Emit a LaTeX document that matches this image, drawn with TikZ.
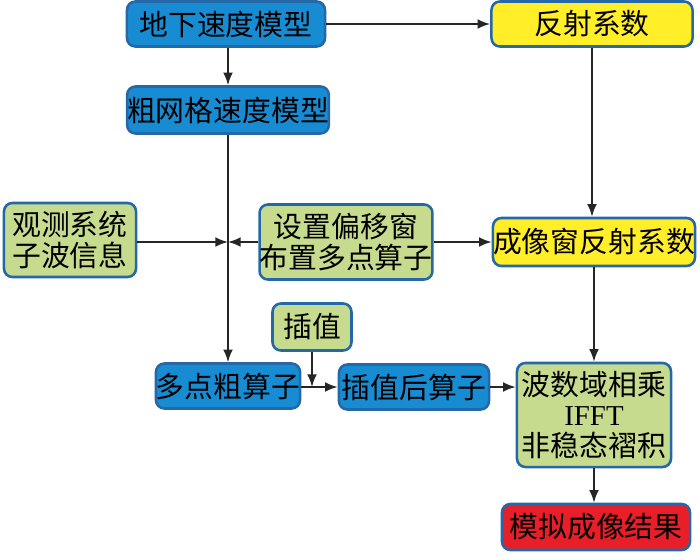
\documentclass[tikz,border=0pt]{standalone}
\usepackage{fontspec}
\setmainfont{Noto Sans CJK SC}
\newfontfamily\latinfont{Liberation Serif}
\usetikzlibrary{arrows.meta}

\definecolor{boxblue}{RGB}{24,140,210}
\definecolor{boxgreen}{RGB}{198,219,142}
\definecolor{boxyellow}{RGB}{255,238,40}
\definecolor{boxred}{RGB}{232,30,40}
\definecolor{edgeblue}{RGB}{36,104,168}

\tikzset{
  box/.style={draw=edgeblue, line width=1.8pt, rounded corners=6pt,
    align=center, inner sep=0pt, font=\fontsize{20.5}{21.5}\selectfont},
  arr/.style={-{Latex[length=9pt,width=7pt]}, line width=1.3pt, black!85}
}

\begin{document}
\begin{tikzpicture}[x=0.025cm, y=-0.025cm]
\useasboundingbox (0,0) rectangle (700,560);

% Draw boxes
\node[box, fill=boxblue, minimum width=4.95cm, minimum height=1.125cm] (dixia) at (226,24) {地下速度模型};
\node[box, fill=boxyellow, minimum width=5.025cm, minimum height=1.125cm] (fanshe) at (592,24) {反射系数};
\node[box, fill=boxblue, minimum width=4.95cm, minimum height=1.175cm] (cuwang) at (228,110) {粗网格速度模型};
\node[box, fill=boxgreen, minimum width=3.3cm, minimum height=1.85cm] (guance) at (70,240) {观测系统\\子波信息};
\node[box, fill=boxgreen, minimum width=4.25cm, minimum height=1.875cm] (shezhi) at (346,242) {设置偏移窗\\布置多点算子};
\node[box, fill=boxyellow, minimum width=5.05cm, minimum height=1.2cm] (chengxiang) at (594,242) {成像窗反射系数};
\node[box, fill=boxgreen, minimum width=1.975cm, minimum height=1.175cm] (chazhi) at (312,327) {插值};
\node[box, fill=boxblue, minimum width=3.55cm, minimum height=1.125cm] (duodian) at (228,386) {多点粗算子};
\node[box, fill=boxblue, minimum width=3.75cm, minimum height=1.125cm] (chazhihou) at (414,387) {插值后算子};
\node[box, fill=boxgreen, minimum width=3.85cm, minimum height=2.6cm] (boshu) at (594,415) {波数域相乘\\{\latinfont IFFT}\\非稳态褶积};
\node[box, fill=boxred, minimum width=4.7cm, minimum height=1.15cm] (moni) at (596,527) {模拟成像结果};

% Junction points
\coordinate (jA) at (duodian.north |- shezhi.west);
\coordinate (jB) at (chazhi.south |- chazhihou.west);

% Draw arrows
\draw[arr] (dixia.east) -- (dixia.east -| fanshe.west);
\draw[arr] (dixia.south -| cuwang.north) -- (cuwang.north);
\draw[arr] (cuwang.south -| duodian.north) -- (duodian.north);
\draw[arr] (guance.east |- jA) -- (jA);
\draw[arr] (shezhi.west) -- (jA);
\draw[arr] (shezhi.east) -- (shezhi.east -| chengxiang.west);
\draw[arr] (fanshe.south) -- (fanshe.south |- chengxiang.north);
\draw[arr] (chengxiang.south) -- (boshu.north);
\draw[arr] (duodian.east |- chazhihou.west) -- (chazhihou.west);
\draw[arr] (chazhi.south) -- (jB);
\draw[arr] (chazhihou.east) -- (chazhihou.east -| boshu.west);
\draw[arr] (boshu.south) -- (boshu.south |- moni.north);

\end{tikzpicture}
\end{document}
